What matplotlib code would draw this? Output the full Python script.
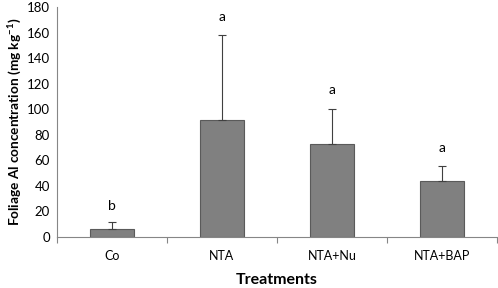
import matplotlib.pyplot as plt
import numpy as np

# values
treatments = ['Co', 'NTA', 'NTA+Nu', 'NTA+BAP']
al_conc = [6.5, 91.5, 72.5, 44.0]
al_err = [5.0, 66.5, 27.5, 11.5]
letters = ['b', 'a', 'a', 'a']
letter_y = [24, 172, 115, 70]

plt.rcParams['font.family'] = ['Lato', 'DejaVu Sans']
plt.rcParams['mathtext.fontset'] = 'custom'
plt.rcParams['mathtext.rm'] = 'Lato'
plt.rcParams['mathtext.bf'] = 'Lato:bold'

fig = plt.figure(figsize=(4.98, 2.88), dpi=100)
ax = fig.add_axes([57 / 498, 51 / 288, 440 / 498, 230 / 288])

x = np.arange(len(treatments))
ax.bar(x, al_conc, width=0.4, color='#808080', edgecolor='#5a5a5a', linewidth=0.8, zorder=2)
ax.errorbar(x, al_conc, yerr=[np.zeros(len(al_err)), al_err], fmt='none',
            ecolor='#404040', elinewidth=0.8, capsize=3, capthick=0.8, zorder=3)
for xi, yl, lt in zip(x, letter_y, letters):
    ax.text(xi, yl, lt, ha='center', va='center', fontsize=10)

ax.set_xlim(-0.5, len(treatments) - 0.5)
ax.set_ylim(0, 180)
ax.set_yticks(np.arange(0, 181, 20))
ax.tick_params(axis='y', length=0, labelsize=9.5, pad=5)

ax.set_xticks(x)
ax.set_xticklabels(treatments)
ax.set_xticks(np.arange(-0.5, len(treatments), 1), minor=True)
ax.tick_params(axis='x', which='major', length=0, labelsize=9, pad=9)
ax.tick_params(axis='x', which='minor', length=4, color='#868686', width=0.8)

for side in ['top', 'right']:
    ax.spines[side].set_visible(False)
for side in ['left', 'bottom']:
    ax.spines[side].set_color('#868686')
    ax.spines[side].set_linewidth(0.8)

ax.set_xlabel('Treatments', fontsize=11.5, fontweight='bold', labelpad=8)
ax.set_ylabel('Foliage Al concentration (mg kg$^{\\mathbf{-1}}$)', fontsize=9.8,
              fontweight='bold', labelpad=3)

fig.savefig('out.png', dpi=100)
